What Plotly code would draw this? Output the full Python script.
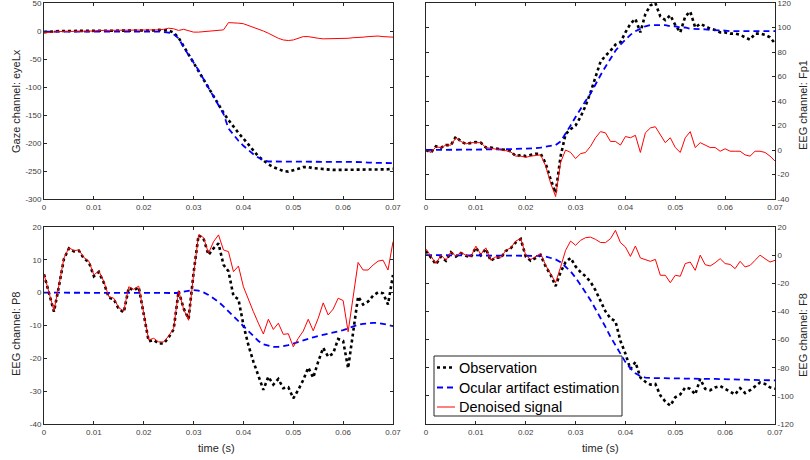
import plotly.graph_objects as go

# ---------------- data (sample index = ms) ----------------
time_s = [i / 1000 for i in range(71)]

gaze_obs = [-2, -1, -1, 0, 0, 0, 1, 1, 1, 1,
            1, 1, 1, 1, 1, 1, 1, 1, 1, 1,
            1, 1, 1, 2, 2, 1, -3, -12, -27, -42,
            -57, -72, -87, -102, -117, -132, -146, -159, -171, -182,
            -192, -203, -214, -224, -231, -238, -243, -247, -250, -251,
            -249, -246, -243, -243, -245, -246, -247, -247, -248, -248,
            -248, -248, -248, -248, -247, -247, -247, -247, -247, -247, -246]
gaze_est = [-1, -1, 0, 0, 0, 0, 0, 0, 0, 0,
            0, 0, 0, 0, 0, 0, 0, 0, 0, 0,
            -1, -1, -1, -1, -2, -3, -6, -13, -29, -42,
            -55, -70, -86, -102, -118, -134, -148, -174, -186, -196,
            -205, -213, -220, -226, -231, -233, -233, -233, -233, -233,
            -233, -233, -233, -233, -233, -233, -233, -233, -233, -234,
            -234, -234, -234, -234, -234, -235, -235, -235, -235, -235, -236]
gaze_den = [-3, -2, -2, -1, -1, -1, 0, 0, 0, 0,
            0, 1, 1, 1, 1, 1, 1, 1, 1, 1,
            1, 1, 1, 2, 3, 5, 4, 1, 3, 0,
            -2, -2, -1, 0, 1, 2, 2, 15, 15, 14,
            13, 10, 6, 3, 0, -4, -9, -13, -16, -17,
            -16, -13, -10, -10, -12, -13, -14, -14, -14, -14,
            -13, -13, -12, -12, -11, -10, -9, -9, -10, -10, -11]

fp1_obs = [0, -2, 3, 2, 4, 4, 11, 7, 5, 6,
           6.5, 6, 2, 2, 1, 0.5, 0, -1, -5, -4,
           -5, -4, -3, -3, -11, -24, -35, -5, 13, 17,
           20, 27, 36, 47, 60, 72, 77, 81, 86, 88,
           96, 103, 107, 96, 111, 118, 120, 109, 106, 110,
           102, 96, 109, 113, 100, 103, 101, 99, 98, 96,
           96, 95, 95, 94, 92, 90, 95, 95, 94, 92, 87]
fp1_est = [0, 0, 0.3, 0.3, 0.3, 0.5, 0.5, 0.5, 0.5, 0.5,
           0.5, 0.5, 0.5, 0.5, 0.5, 0.6, 0.6, 0.7, 0.8, 0.9,
           1, 1.2, 1.5, 2, 2.5, 3, 4, 7, 13, 20,
           27, 34, 40, 46, 54, 61, 68, 75, 81, 86,
           90, 94, 97, 99, 101, 102, 102, 102, 102, 101,
           101, 100, 100, 99, 99, 99, 98.5, 98, 98, 98,
           97.5, 97, 97, 97, 97, 97, 97, 97, 97, 97, 97]
fp1_den = [0, -2, 2.5, 2, 4, 4, 10, 7, 5, 6,
           6, 6, 2, 1.5, 1, 0, -0.5, -1.5, -5, -5,
           -6, -5, -4.5, -4, -13, -27, -38, -10, 0, -2,
           -7, -3, -2, 3, 10, 15, 14, 7, 7, 4,
           11, 10, 12, -2, 14, 18, 19, 12, 6, 10,
           2, -2, 10, 15, 2, 6, 4, 2, 2, -1,
           1, -1, -1, -1, -4, -5, -1, -1, -2, -5, -9]

p8_obs = [5.6, 0, -5.8, 2, 10.3, 13.5, 12.6, 12.8, 10.4, 9.3,
          5, 6.3, 3, -1.5, -2, -5, -6, 1.5, 0.7, 1.7,
          -6, -14.8, -14.4, -15.5, -15.5, -13.6, -11.2, 0.5, -4.8, -8,
          6, 17.5, 16.5, 11.5, 13.5, 15, 8.5, 6.5, -1, -2,
          -9.8, -16, -21, -25, -29.6, -25.6, -28, -26.3, -29.1, -28.8,
          -32.2, -29.6, -26.6, -22.8, -25.9, -21, -16.8, -19.5, -18.5, -14.1,
          -14.7, -23, -11.9, -1.2, -3.6, -2.7, -0.9, 0.1, -0.2, -3.6, 5.4]
p8_est = [0, 0, 0, 0, 0, 0, 0, 0, 0, 0,
          0, 0, 0, 0, 0, 0, 0, 0, 0, 0,
          0, 0, 0, 0, 0, 0, -0.2, -0.1, 0.3, 0.6,
          0.8, 0.6, 0.1, -0.7, -1.7, -2.8, -4.2, -5.7, -7.3, -8.9,
          -10.4, -12, -13.4, -14.7, -15.7, -16.2, -16.5, -16.5, -16.3, -16,
          -15.5, -15, -14.4, -14, -13.6, -13.2, -12.9, -12.5, -12.2, -11.8,
          -11.4, -10.8, -10.2, -9.8, -9.5, -9.3, -9.2, -9.2, -9.4, -9.8, -10.2]
p8_den = [5.6, 0, -5.5, 2.3, 10.5, 13.7, 12.8, 13, 10.7, 9.6,
          5.4, 6.6, 3.4, -1.2, -1.7, -4.6, -5.6, 1.8, 1, 2,
          -5.8, -14.4, -13.9, -15, -15, -13.2, -10.9, 0.6, -5, -8.4,
          5.4, 17.6, 16.8, 12, 15.5, 17.6, 13, 12.5, 6.4, 8.1,
          1.8, -2.2, -5.8, -9.3, -12.6, -8.1, -11.2, -9.3, -12.7, -12.5,
          -16.5, -13.9, -11.7, -8.1, -11.6, -7.8, -3.1, -6.8, -5, -1.7,
          -2.4, -11.9, -0.7, 9.2, 6.9, 6.9, 8.4, 9.6, 9.9, 6.9, 15.5]

f8_obs = [3, -2, -6.5, -1, -4, 2, -1, 1.5, -0.5, -1.5,
          5.5, 0, 4.5, -4, -1.5, -2, 3, 5, 9, 11.5,
          -1, -4, -2, 0, -8, -14, -22, -12, -5, -2,
          -8, -12, -15, -19, -25, -33, -40, -45, -47, -61,
          -70, -81, -76, -87, -90, -92, -91.5, -99.7, -104, -107,
          -101, -99, -94, -95, -99, -88, -95, -96, -94, -93,
          -95, -97, -99, -94.5, -98, -96, -93, -90.5, -91.5, -94, -95]
f8_est = [0, 0, 0, 0, 0, 0, 0, 0, 0, 0,
          0, 0, 0, 0, 0, 0, 0, 0, 0, 0,
          0, 0, 0, -0.5, -1, -2, -3, -5, -8, -11.5,
          -16, -21, -26.5, -32, -38, -44.5, -51, -58, -64, -70,
          -76, -80.5, -84, -86, -87, -87.3, -87.4, -87.5, -87.5, -87.5,
          -87.5, -87.5, -87.5, -87.6, -87.7, -87.8, -88, -88, -88, -88,
          -88.2, -88.3, -88.4, -88.5, -88.5, -88.6, -88.7, -88.8, -88.9, -89, -89]
f8_den = [4.3, -1.2, -6, 0, -3.6, 2.4, -0.7, 1.9, 0, -1.2,
          6.4, 0.5, 5.2, -3.6, -1.2, -1.9, 3.4, 5.2, 10, 11.8,
          0, -3.1, -1.2, 1.2, -7.2, -13.6, -19.5, -8.4, 3.4, 10,
          7, 10.5, 12.4, 12.8, 11.2, 9, 8.9, 11.7, 17.6, 8.9,
          5.8, -0.9, 6.5, -2, -3, -4.4, -3, -14.3, -14.3, -19.6,
          -14.3, -15, -6, -4.9, -10.8, 0, -6.8, -7.7, -5.4, -2.5,
          -6, -6.6, -9.6, -4.4, -8.4, -7.3, -3.7, 0, -2.5, -4.9, -3.7]

x_ticks = [0, 0.01, 0.02, 0.03, 0.04, 0.05, 0.06, 0.07]
x_ticktext = ["0", "0.01", "0.02", "0.03", "0.04", "0.05", "0.06", "0.07"]
gaze_ticks = [50, 0, -50, -100, -150, -200, -250, -300]
fp1_ticks = [120, 100, 80, 60, 40, 20, 0, -20, -40]
p8_ticks = [20, 10, 0, -10, -20, -30, -40]
f8_ticks = [20, 0, -20, -40, -60, -80, -100, -120]

series_names = ["Observation", "Ocular artifact estimation", "Denoised signal"]
y_titles = ["Gaze channel: eyeLx", "EEG channel: Fp1", "EEG channel: P8", "EEG channel: F8"]
x_title = "time (s)"

# ---------------- figure ----------------
W, H = 810, 460
FONT = "Liberation Sans, Arial, Helvetica, sans-serif"
AX = "#262626"
TICKC = "#404040"

panels = [
    (gaze_obs, gaze_est, gaze_den, gaze_ticks, [-300, 50], "left", (44, 393), (3, 199)),
    (fp1_obs, fp1_est, fp1_den, fp1_ticks, [-40, 120], "right", (426, 775), (3, 199)),
    (p8_obs, p8_est, p8_den, p8_ticks, [-40, 20], "left", (44, 393), (227, 424)),
    (f8_obs, f8_est, f8_den, f8_ticks, [-120, 20], "right", (426, 775), (227, 424)),
]

styles = [
    dict(color="#000000", width=2.6, dash="dot"),
    dict(color="#0000FF", width=1.8, dash="6px,4px"),
    dict(color="#FF0000", width=1.0),
]

fig = go.Figure()
layout = {}
for i, (obs, est, den, yt, yr, side, (x0, x1), (y0, y1)) in enumerate(panels):
    n = "" if i == 0 else str(i + 1)
    xa, ya = "x" + n, "y" + n
    for k, vals in enumerate([obs, est, den]):
        fig.add_trace(go.Scatter(
            x=time_s, y=vals, mode="lines", name=series_names[k],
            line=styles[k], xaxis=xa, yaxis=ya, showlegend=False,
        ))
    common = dict(showline=True, linecolor=AX, linewidth=1, mirror="allticks",
                  ticks="inside", ticklen=3, tickcolor=AX, tickwidth=1,
                  showgrid=False, zeroline=False, automargin=False,
                  ticklabeloverflow="allow",
                  tickfont=dict(family=FONT, size=8, color=TICKC))
    layout["xaxis" + n] = dict(common, domain=[x0 / W, x1 / W], anchor=ya,
                               range=[0, 0.07], tickvals=x_ticks, ticktext=x_ticktext)
    layout["yaxis" + n] = dict(common, domain=[1 - y1 / H, 1 - y0 / H], anchor=xa,
                               side=side, range=yr, tickvals=yt,
                               ticktext=[str(v) for v in yt])

ann = []
ypos = [101, 105, 334, 335]
xpos = [16, 803, 16, 803]
for i, t in enumerate(y_titles):
    ann.append(dict(text=t, x=xpos[i] / W, y=1 - ypos[i] / H, xref="paper", yref="paper",
                    xanchor="center", yanchor="middle", textangle=-90, showarrow=False,
                    font=dict(family=FONT, size=11, color=AX)))
for xc in [216, 600]:
    ann.append(dict(text=x_title, x=xc / W, y=1 - 448 / H, xref="paper", yref="paper",
                    xanchor="center", yanchor="middle", showarrow=False,
                    font=dict(family=FONT, size=11, color=AX)))

# legend (box, samples and labels in the bottom-right panel)
shapes = [dict(type="rect", xref="paper", yref="paper",
               x0=434 / W, x1=622 / W, y0=1 - 416 / H, y1=1 - 356 / H,
               line=dict(color=AX, width=1), fillcolor="white", layer="above")]
rows = [367.5, 387.5, 407]
for k in range(3):
    shapes.append(dict(type="line", xref="paper", yref="paper",
                       x0=437 / W, x1=455 / W, y0=1 - rows[k] / H, y1=1 - rows[k] / H,
                       line=styles[k], layer="above"))
    ann.append(dict(text=series_names[k], x=457 / W, y=1 - rows[k] / H,
                    xref="paper", yref="paper", xanchor="left", yanchor="middle",
                    showarrow=False, font=dict(family=FONT, size=14.5, color="#000000")))

fig.update_layout(
    **layout,
    width=W, height=H,
    margin=dict(l=0, r=0, t=0, b=0),
    paper_bgcolor="white", plot_bgcolor="white",
    annotations=ann, shapes=shapes,
    showlegend=False,
    font=dict(family=FONT),
)

fig.write_html("out.html", config={"displayModeBar": False},
               post_script="document.body.style.margin='0px';")
